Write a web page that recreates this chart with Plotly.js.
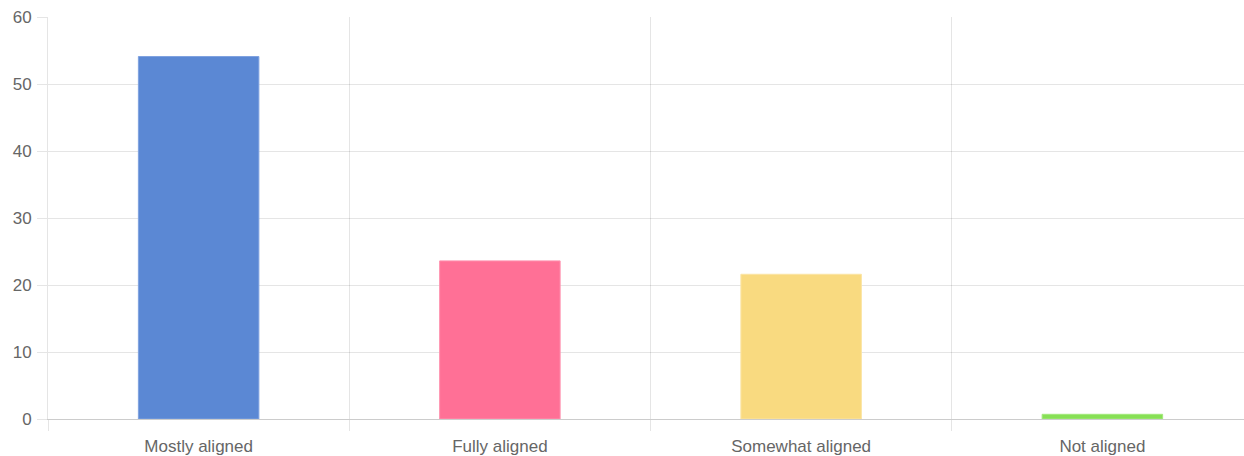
<!DOCTYPE html>
<html>
<head>
<meta charset="utf-8">
<script src="https://cdn.plot.ly/plotly-3.0.1.min.js"></script>
<style>
  html, body { margin: 0; padding: 0; background: #fff; overflow: hidden; }
  #chart { width: 1254px; height: 456px; }
</style>
</head>
<body>
<div id="chart"></div>
<script>
// Alignment responses per category
const categories = ["Mostly aligned", "Fully aligned", "Somewhat aligned", "Not aligned"];
const values = [54.1, 23.6, 21.6, 0.7];
const fillColors = ["#5b88d4", "#ff7096", "#f9da80", "#87e055"];
const edgeColors = ["#7fa2e0", "#ff93b0", "#fbe4a4", "#a3e87c"];
const yTicks = [0, 10, 20, 30, 40, 50, 60];

const trace = {
  type: "bar",
  x: categories,
  y: values,
  marker: {
    color: fillColors,
    line: { color: edgeColors, width: 1 }
  },
  hoverinfo: "x+y"
};

const gridColor = "rgba(0,0,0,0.1)";
const tickFont = { family: "Liberation Sans, Arial, sans-serif", size: 17, color: "#666" };

const layout = {
  width: 1254,
  height: 456,
  margin: { l: 48, r: 1, t: 17, b: 37 },
  paper_bgcolor: "#fff",
  plot_bgcolor: "#fff",
  showlegend: false,
  bargap: 0.6,
  xaxis: {
    type: "category",
    tickson: "boundaries",
    showgrid: true,
    gridcolor: gridColor,
    gridwidth: 1,
    ticks: "outside",
    ticklen: 11,
    tickcolor: gridColor,
    tickfont: tickFont,
    ticklabelstandoff: 12,
    showline: true,
    linecolor: "rgba(0,0,0,0.2)",
    linewidth: 1,
    zeroline: false,
    fixedrange: true
  },
  yaxis: {
    range: [0, 60],
    tickvals: yTicks,
    ticktext: yTicks.map(String),
    showgrid: true,
    gridcolor: gridColor,
    gridwidth: 1,
    ticks: "outside",
    ticklen: 10,
    tickcolor: gridColor,
    tickfont: tickFont,
    ticklabelstandoff: 2,
    showline: true,
    linecolor: gridColor,
    linewidth: 1,
    zeroline: false,
    fixedrange: true
  }
};

Plotly.newPlot("chart", [trace], layout, { displayModeBar: false, staticPlot: true });
</script>
</body>
</html>
